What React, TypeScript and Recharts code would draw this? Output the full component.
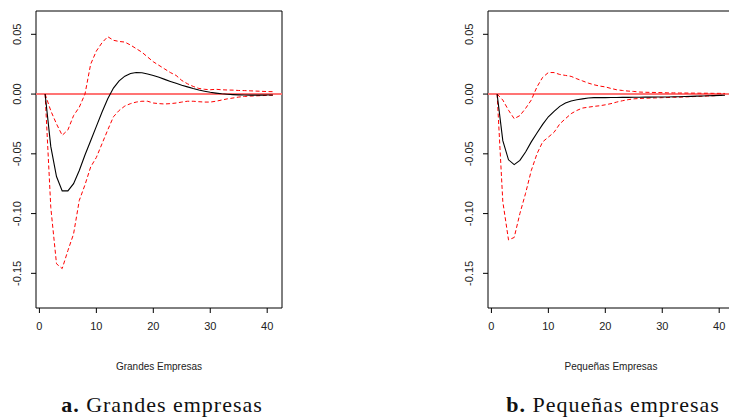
import { LineChart, Line, XAxis, YAxis, ReferenceLine, ReferenceArea } from 'recharts';

// impulse-response horizon
const horizon = [
  1, 2, 3, 4, 5, 6, 7, 8, 9, 10, 11, 12, 13, 14, 15, 16, 17, 18, 19, 20, 21,
  22, 23, 24, 25, 26, 27, 28, 29, 30, 31, 32, 33, 34, 35, 36, 37, 38, 39, 40, 41,
];

// Grandes empresas
const largeIrf = [
  0, -0.044, -0.069, -0.081, -0.081, -0.075, -0.064, -0.051, -0.039, -0.027, -0.015,
  -0.004, 0.005, 0.011, 0.015, 0.0172, 0.018, 0.0178, 0.0168, 0.0155, 0.014,
  0.0123, 0.0106, 0.009, 0.0074, 0.006, 0.0046, 0.0034, 0.0024, 0.0015, 0.0008,
  0.0002, -0.0002, -0.0005, -0.0007, -0.0008, -0.0009, -0.0009, -0.0009, -0.0008, -0.0008,
];
const largeUpper = [
  0, -0.014, -0.025, -0.0345, -0.03, -0.018, -0.011, 0.0, 0.025, 0.036, 0.043,
  0.048, 0.045, 0.044, 0.0435, 0.041, 0.038, 0.035, 0.031, 0.027, 0.024,
  0.021, 0.018, 0.0156, 0.0114, 0.0086, 0.0064, 0.0047, 0.004, 0.0036, 0.004,
  0.0036, 0.0034, 0.0033, 0.003, 0.0029, 0.0027, 0.0025, 0.0023, 0.0021, 0.002,
];
const largeLower = [
  0, -0.095, -0.142, -0.146, -0.131, -0.117, -0.089, -0.076, -0.061, -0.053, -0.0415,
  -0.03, -0.019, -0.0137, -0.01, -0.008, -0.0067, -0.006, -0.006, -0.0075, -0.008,
  -0.0083, -0.008, -0.0075, -0.0067, -0.006, -0.006, -0.0064, -0.0067, -0.0067, -0.006,
  -0.005, -0.004, -0.0033, -0.0025, -0.002, -0.0017, -0.0015, -0.0013, -0.0011, -0.001,
];

// Pequeñas empresas
const smallIrf = [
  0, -0.039, -0.055, -0.059, -0.0555, -0.0485, -0.04, -0.0326, -0.0254, -0.019, -0.0145,
  -0.0103, -0.0075, -0.0058, -0.0047, -0.004, -0.0033, -0.003, -0.003, -0.003, -0.0029,
  -0.0029, -0.0028, -0.0028, -0.0027, -0.0027, -0.0026, -0.0026, -0.0025, -0.0025, -0.0024,
  -0.0023, -0.0022, -0.002, -0.0019, -0.0017, -0.0016, -0.0014, -0.0013, -0.0011, -0.001,
];
const smallUpper = [
  0, -0.005, -0.0135, -0.0206, -0.018, -0.012, -0.005, 0.006, 0.014, 0.018, 0.018,
  0.0164, 0.0156, 0.0148, 0.0128, 0.011, 0.0092, 0.0078, 0.0067, 0.006, 0.0047,
  0.0036, 0.003, 0.0025, 0.0022, 0.0017, 0.0015, 0.0014, 0.0013, 0.0012, 0.001,
  0.001, 0.0009, 0.0009, 0.0008, 0.0008, 0.0007, 0.0007, 0.0006, 0.0006, 0.0005,
];
const smallLower = [
  0, -0.09, -0.122, -0.12, -0.1, -0.083, -0.064, -0.05, -0.04, -0.036, -0.032,
  -0.025, -0.0206, -0.0164, -0.0137, -0.0117, -0.011, -0.0103, -0.0098, -0.009, -0.008,
  -0.0067, -0.0056, -0.0047, -0.004, -0.0037, -0.0035, -0.0033, -0.0032, -0.003, -0.0029,
  -0.0027, -0.0026, -0.0024, -0.0022, -0.002, -0.0018, -0.0016, -0.0014, -0.0012, -0.001,
];

const xTicks = [0, 10, 20, 30, 40];
const yTicks = [0.05, 0, -0.05, -0.1, -0.15];
const X_DOMAIN: [number, number] = [-0.6, 42.6];
const Y_DOMAIN: [number, number] = [-0.179, 0.0695];

const tickFont = '"Liberation Sans", Arial, sans-serif';

function RotatedTick(props: any) {
  const { x, y, payload } = props;
  return (
    <text
      x={x}
      y={y}
      transform={`rotate(-90, ${x}, ${y})`}
      textAnchor="middle"
      dominantBaseline="central"
      fontSize={11}
      fontFamily={tickFont}
      fill="#222"
    >
      {Number(payload.value).toFixed(2)}
    </text>
  );
}

function IrfPanel({ irf, upper, lower }: { irf: number[]; upper: number[]; lower: number[] }) {
  const data = horizon.map((h, i) => ({ h, irf: irf[i], upper: upper[i], lower: lower[i] }));
  return (
    <LineChart width={290} height={340} data={data} margin={{ top: 11, right: 8, bottom: 2, left: 6 }}>
      <XAxis
        dataKey="h"
        type="number"
        domain={X_DOMAIN}
        ticks={xTicks}
        allowDataOverflow
        axisLine={false}
        tickLine={{ stroke: '#000' }}
        tickSize={5}
        tickMargin={9}
        height={30}
        tick={{ fontSize: 11, fontFamily: tickFont, fill: '#222' }}
      />
      <YAxis
        type="number"
        domain={Y_DOMAIN}
        ticks={yTicks}
        allowDataOverflow
        axisLine={false}
        tickLine={{ stroke: '#000' }}
        tickSize={5}
        tickMargin={14}
        width={30}
        tick={<RotatedTick />}
      />
      <ReferenceArea
        x1={X_DOMAIN[0]}
        x2={X_DOMAIN[1]}
        y1={Y_DOMAIN[0]}
        y2={Y_DOMAIN[1]}
        fill="none"
        stroke="#000"
        strokeWidth={1}
        ifOverflow="visible"
      />
      <ReferenceLine y={0} stroke="#ff7474" strokeWidth={2} />
      <Line dataKey="upper" stroke="#ff0000" strokeWidth={1} strokeDasharray="4 2.5" dot={false} isAnimationActive={false} />
      <Line dataKey="lower" stroke="#ff0000" strokeWidth={1} strokeDasharray="4 2.5" dot={false} isAnimationActive={false} />
      <Line dataKey="irf" stroke="#000" strokeWidth={1.1} dot={false} isAnimationActive={false} />
    </LineChart>
  );
}

const axisTitleStyle: React.CSSProperties = {
  position: 'absolute',
  width: 246,
  textAlign: 'center',
  fontFamily: tickFont,
  fontSize: 10,
  color: '#222',
};

const captionStyle: React.CSSProperties = {
  position: 'absolute',
  width: 300,
  textAlign: 'center',
  fontFamily: '"Liberation Serif", "DejaVu Serif", serif',
  fontSize: 22,
  letterSpacing: 1,
  color: '#111',
  whiteSpace: 'nowrap',
};

export default function App() {
  return (
    <div style={{ position: 'absolute', left: 0, top: 0, width: 729, height: 419, overflow: 'hidden', background: '#fff' }}>
      <div style={{ position: 'absolute', left: 0, top: 0 }}>
        <IrfPanel irf={largeIrf} upper={largeUpper} lower={largeLower} />
      </div>
      <div style={{ position: 'absolute', left: 452, top: 0 }}>
        <IrfPanel irf={smallIrf} upper={smallUpper} lower={smallLower} />
      </div>
      <div style={{ ...axisTitleStyle, left: 36, top: 361 }}>Grandes Empresas</div>
      <div style={{ ...axisTitleStyle, left: 488, top: 361 }}>Pequeñas Empresas</div>
      <div style={{ ...captionStyle, left: 12, top: 392 }}>
        <b>a.</b> Grandes empresas
      </div>
      <div style={{ ...captionStyle, left: 463, top: 392 }}>
        <b>b.</b> Pequeñas empresas
      </div>
    </div>
  );
}
